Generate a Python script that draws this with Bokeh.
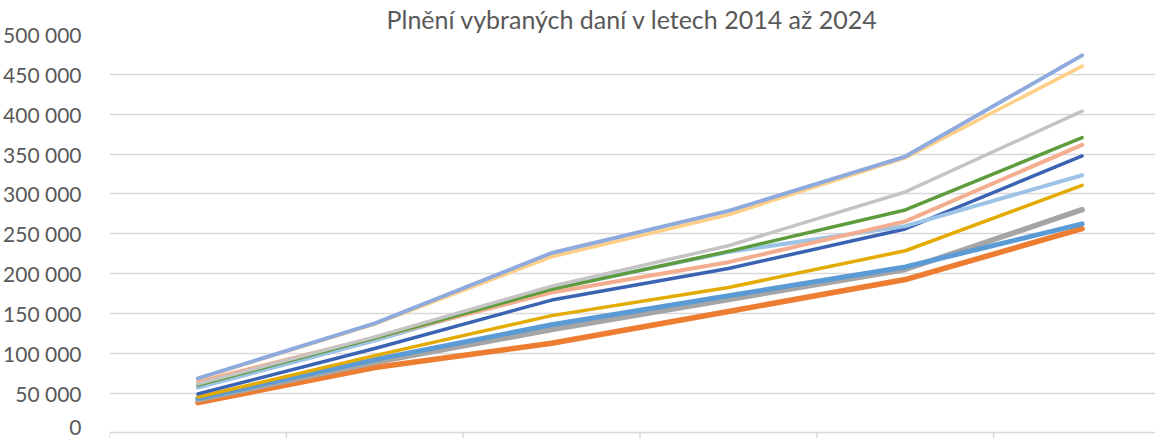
from bokeh.plotting import figure
from bokeh.models import Range1d, FixedTicker
from bokeh.embed import file_html
from bokeh.resources import INLINE

# ---- data ----
years = [2014, 2016, 2018, 2020, 2022, 2024]
category_edges = [2013, 2015, 2017, 2019, 2021, 2023]
ytick_values = [0, 50000, 100000, 150000, 200000, 250000, 300000, 350000, 400000, 450000, 500000]
ytick_labels = ["0", "50 000", "100 000", "150 000", "200 000", "250 000",
                "300 000", "350 000", "400 000", "450 000", "500 000"]
title_text = "Plnění vybraných daní v letech 2014 až 2024"

s_orange = [38000, 82000, 112500, 152400, 192500, 256300]
s_gray = [41500, 88500, 129800, 167500, 205100, 280100]
s_blue = [43500, 92000, 135700, 172200, 208300, 262300]
s_gold = [45000, 97000, 147200, 182500, 228600, 310700]
s_darkblue = [49000, 106000, 166700, 206300, 256000, 347600]
s_lightblue = [57000, 116000, 181000, 227000, 259500, 323400]
s_salmon = [64000, 119500, 176200, 214300, 265500, 361500]
s_green = [60000, 119000, 180100, 227800, 279800, 370600]
s_lightgray = [61500, 120500, 184100, 234900, 302400, 403900]
s_lightorange = [68000, 136500, 221000, 273800, 345200, 460300]
s_periwinkle = [68500, 137500, 225800, 278600, 346800, 473800]

series = [
    (s_orange, "#ED7D31", 5.5),
    (s_gray, "#A5A5A5", 5.5),
    (s_blue, "#5B9BD5", 5),
    (s_gold, "#E3AA00", 3.5),
    (s_darkblue, "#3B63B3", 3.5),
    (s_lightblue, "#9DC3E6", 4),
    (s_salmon, "#F4AE8F", 4),
    (s_green, "#5D9C3D", 3.5),
    (s_lightgray, "#C4C4C4", 3.5),
    (s_lightorange, "#FFCF87", 3.5),
    (s_periwinkle, "#8FAADC", 4),
]

tick_depth = -6000  # length of the small category tick marks below the baseline

p = figure(width=1155, height=438, output_backend="svg", toolbar_location=None,
           x_axis_location=None,
           x_range=Range1d(2013, 2024.83), y_range=Range1d(-7000, 500000),
           min_border_left=0, min_border_right=0, min_border_top=0, min_border_bottom=0)
p.outline_line_color = None
p.background_fill_color = "white"
p.border_fill_color = "white"

p.title.text = title_text
p.title.text_font = "Lato"
p.title.text_font_size = "25px"
p.title.text_font_style = "normal"
p.title.text_color = "#595959"
p.title.align = "center"
p.title.standoff = 2

# category tick marks below the baseline
p.segment(x0=category_edges, y0=[0] * len(category_edges),
          x1=category_edges, y1=[tick_depth] * len(category_edges),
          line_color="#D9D9D9", line_width=1.5)

for vals, col, w in series:
    p.line(years, vals, line_color=col, line_width=w, line_join="round", line_cap="round")

p.xgrid.visible = False
p.ygrid.grid_line_color = "#D9D9D9"
p.ygrid.grid_line_width = 1.5
p.ygrid.ticker = FixedTicker(ticks=ytick_values)

ya = p.yaxis[0]
ya.ticker = FixedTicker(ticks=ytick_values)
ya.major_label_overrides = {v: l for v, l in zip(ytick_values, ytick_labels)}
ya.axis_line_color = None
ya.major_tick_line_color = None
ya.minor_tick_line_color = None
ya.major_label_text_font = "Lato"
ya.major_label_text_font_size = "21px"
ya.major_label_text_color = "#595959"
ya.major_label_standoff = 22

open("out.html", "w").write(file_html(p, INLINE))
